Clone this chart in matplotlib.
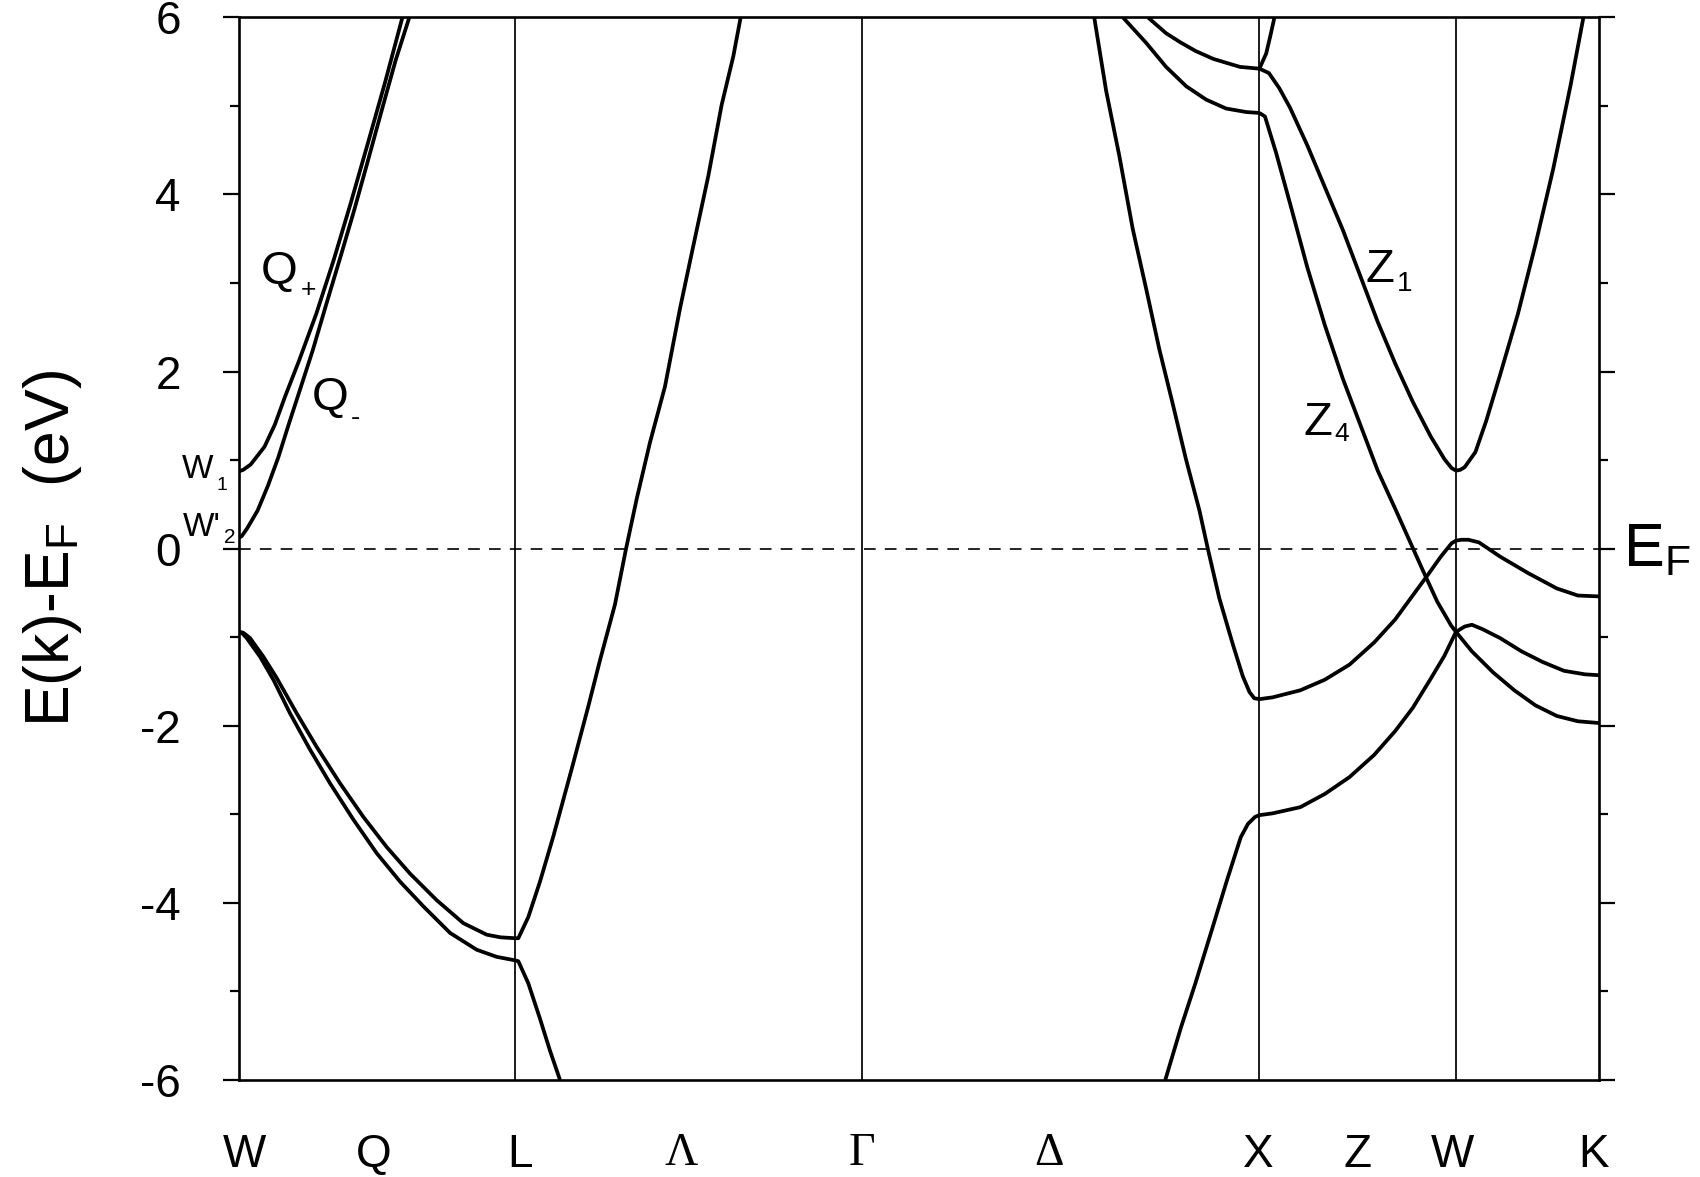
import numpy as np
import matplotlib
matplotlib.use("Agg")
import matplotlib.pyplot as plt

plt.rcParams['font.family'] = ['Liberation Sans', 'DejaVu Sans']
plt.rcParams['mathtext.fontset'] = 'custom'
plt.rcParams['mathtext.rm'] = 'Liberation Sans'
plt.rcParams['mathtext.it'] = 'Liberation Sans'
plt.rcParams['mathtext.default'] = 'regular'
plt.rcParams['axes.unicode_minus'] = False

# high-symmetry points along the path (k in units of 2pi/a)
sym_k = [0.0, 0.6963, 1.570, 2.571, 3.066, 3.4267]
label_k = [0.014, 0.341, 0.709, 1.114, 1.570, 2.041, 2.567, 2.817, 3.058, 3.413]
label_txt = ['W', 'Q', 'L', 'Λ', 'Γ', 'Δ', 'X', 'Z', 'W', 'K']
greek = ['Λ', 'Γ', 'Δ']

# W -> L
qplus_k = [0.0, 0.012, 0.0307, 0.0654, 0.0915, 0.1175, 0.1523, 0.1957, 0.2391, 0.2825, 0.3259, 0.3694, 0.4128]
qplus_e = [0.87, 0.89, 0.95, 1.15, 1.40, 1.72, 2.12, 2.65, 3.25, 3.90, 4.58, 5.27, 6.0]
qminus_k = [0.0, 0.008, 0.022, 0.0481, 0.0741, 0.1002, 0.1262, 0.1523, 0.1870, 0.2217, 0.2565, 0.2912, 0.3259, 0.3607, 0.3954, 0.4302]
qminus_e = [0.12, 0.14, 0.23, 0.43, 0.71, 1.03, 1.40, 1.76, 2.24, 2.77, 3.29, 3.82, 4.38, 4.95, 5.51, 6.0]
wl_v1_k = [0.0, 0.012, 0.029, 0.0625, 0.0961, 0.1465, 0.1969, 0.2556, 0.3144, 0.3731, 0.4319, 0.4990, 0.5662, 0.6250, 0.6600, 0.6963]
wl_v1_e = [-0.94, -0.95, -1.01, -1.22, -1.46, -1.86, -2.24, -2.65, -3.03, -3.37, -3.67, -3.97, -4.23, -4.36, -4.39, -4.40]
wl_v2_k = [0.0, 0.008, 0.0206, 0.0541, 0.0877, 0.1297, 0.1801, 0.2304, 0.2892, 0.3480, 0.4067, 0.4655, 0.5327, 0.5998, 0.6500, 0.6963]
wl_v2_e = [-0.94, -0.95, -1.01, -1.22, -1.48, -1.86, -2.27, -2.65, -3.06, -3.44, -3.76, -4.04, -4.34, -4.53, -4.61, -4.65]

# L -> Gamma
lg_up_k = [0.6963, 0.7047, 0.7299, 0.7593, 0.7928, 0.8390, 0.8810, 0.9104, 0.9481, 0.9760, 1.0027, 1.0363, 1.0740, 1.1118, 1.1454, 1.1832, 1.2167, 1.2461, 1.2646]
lg_up_e = [-4.40, -4.40, -4.16, -3.76, -3.25, -2.49, -1.78, -1.26, -0.63, 0.0, 0.56, 1.20, 1.83, 2.71, 3.42, 4.21, 5.01, 5.56, 6.0]
lg_dn_k = [0.6963, 0.7047, 0.7299, 0.7593, 0.7844, 0.8096]
lg_dn_e = [-4.65, -4.66, -4.91, -5.31, -5.67, -6.0]

# Gamma -> X
gx_a_k = [2.155, 2.185, 2.218, 2.252, 2.286, 2.319, 2.353, 2.386, 2.420, 2.441, 2.470, 2.504, 2.529, 2.546, 2.558, 2.571]
gx_a_e = [6.0, 5.17, 4.44, 3.61, 2.93, 2.25, 1.63, 1.01, 0.43, 0.0, -0.56, -1.08, -1.44, -1.62, -1.69, -1.70]
gx_b_k = [2.334, 2.374, 2.409, 2.453, 2.489, 2.524, 2.542, 2.560, 2.571]
gx_b_e = [-6.0, -5.40, -4.92, -4.28, -3.75, -3.26, -3.11, -3.03, -3.01]
gx_c_k = [2.227, 2.286, 2.336, 2.387, 2.437, 2.487, 2.538, 2.571]
gx_c_e = [6.0, 5.71, 5.44, 5.22, 5.07, 4.97, 4.93, 4.92]
gx_d_k = [2.290, 2.336, 2.371, 2.410, 2.455, 2.522, 2.571]
gx_d_e = [6.0, 5.82, 5.72, 5.62, 5.53, 5.44, 5.42]

# X -> W -> K
xw_s_k = [2.571, 2.588, 2.598, 2.609]
xw_s_e = [5.42, 5.59, 5.78, 6.0]
z1_k = [2.571, 2.595, 2.621, 2.648, 2.692, 2.736, 2.781, 2.825, 2.869, 2.913, 2.957, 3.002, 3.037, 3.055, 3.066]
z1_e = [5.42, 5.37, 5.20, 4.98, 4.55, 4.08, 3.60, 3.08, 2.56, 2.09, 1.66, 1.27, 1.01, 0.91, 0.88]
z4_k = [2.571, 2.585, 2.613, 2.648, 2.692, 2.736, 2.781, 2.825, 2.869, 2.913, 2.957, 2.984, 3.019, 3.054, 3.066,
        3.106, 3.160, 3.213, 3.266, 3.320, 3.373, 3.4267]
z4_e = [4.92, 4.88, 4.47, 3.90, 3.17, 2.52, 1.92, 1.40, 0.88, 0.45, 0.01, -0.26, -0.60, -0.87, -0.94,
        -1.16, -1.40, -1.60, -1.77, -1.89, -1.95, -1.97]
xwk_1_k = [2.571, 2.604, 2.674, 2.736, 2.798, 2.860, 2.913, 2.957, 2.993, 3.028, 3.055, 3.066, 3.080, 3.097, 3.124,
           3.177, 3.249, 3.320, 3.373, 3.4267]
xwk_1_e = [-1.70, -1.68, -1.60, -1.48, -1.31, -1.06, -0.80, -0.53, -0.31, -0.09, 0.06, 0.09, 0.10, 0.10, 0.07,
           -0.09, -0.28, -0.45, -0.53, -0.54]
xwk_2_k = [2.571, 2.604, 2.674, 2.736, 2.798, 2.860, 2.913, 2.957, 3.001, 3.037, 3.066, 3.088, 3.106, 3.133,
           3.177, 3.231, 3.284, 3.338, 3.391, 3.4267]
xwk_2_e = [-3.01, -2.99, -2.92, -2.77, -2.58, -2.33, -2.06, -1.80, -1.48, -1.21, -0.94, -0.88, -0.86, -0.91,
           -1.01, -1.16, -1.28, -1.38, -1.42, -1.43]
wk_c_k = [3.066, 3.077, 3.088, 3.115, 3.142, 3.177, 3.222, 3.266, 3.311, 3.355, 3.387]
wk_c_e = [0.88, 0.89, 0.92, 1.09, 1.44, 1.96, 2.65, 3.43, 4.29, 5.24, 6.0]

bands = [(qplus_k, qplus_e), (qminus_k, qminus_e), (wl_v1_k, wl_v1_e), (wl_v2_k, wl_v2_e),
         (lg_up_k, lg_up_e), (lg_dn_k, lg_dn_e), (gx_a_k, gx_a_e), (gx_b_k, gx_b_e),
         (gx_c_k, gx_c_e), (gx_d_k, gx_d_e), (xw_s_k, xw_s_e), (z1_k, z1_e), (z4_k, z4_e),
         (xwk_1_k, xwk_1_e), (xwk_2_k, xwk_2_e), (wk_c_k, wk_c_e)]

# band labels: k, E of baseline, main, subscript, size, sub size, sub drop (pt)
band_labels = [
    (0.057, 2.99, 'Q', '+', 34, 19, -2.6),
    (0.184, 1.57, 'Q', '-', 34, 20, -3.6),
    (-0.143, 0.80, 'W', '1', 24, 14, -3.5),
    (-0.139, 0.14, "W'", '2', 24, 15, 0.0),
    (2.837, 3.01, 'Z', '1', 34, 20, 0.7),
    (2.681, 1.28, 'Z', '4', 34, 19, 3.0),
]

fig = plt.figure(figsize=(17, 11.77), dpi=100)
ax = fig.add_axes([0.1403, 0.0825, 0.8004, 0.9028])

for k, e in bands:
    ax.plot(k, e, color='black', lw=2.7, solid_capstyle='butt', solid_joinstyle='round')

for xv in sym_k[1:-1]:
    ax.axvline(xv, color='black', lw=1.25)
ax.axhline(0, color='black', lw=1.2, dashes=(7, 5.5))

ax.set_xlim(sym_k[0], sym_k[-1])
ax.set_ylim(-6, 6)
for s in ax.spines.values():
    s.set_linewidth(1.9)

ax.set_yticks(np.arange(-6, 7, 2))
ax.set_yticks(np.arange(-5, 6, 2), minor=True)
ax.tick_params(axis='y', which='major', left=True, right=True, direction='out',
               length=11.5, width=1.6, labelsize=33, pad=30)
ax.tick_params(axis='y', which='minor', left=True, right=True, direction='out',
               length=6.5, width=1.6)

ax.set_xticks(label_k)
ax.set_xticklabels(label_txt)
ax.tick_params(axis='x', length=0, labelsize=33, pad=38)
for t in ax.get_xticklabels():
    if t.get_text() in greek:
        t.set_family('Liberation Serif')

fig.text(0.031, 0.534, r'E(k)-E$_{F}$  (eV)', rotation=90, fontsize=45,
         ha='center', va='center')
ax.text(3.487, -0.03, r'E$_{F}$', fontsize=44, ha='left', va='center', clip_on=False)

for x, y, main, sub, size, sub_size, drop in band_labels:
    t = ax.text(x, y, main, fontsize=size, ha='left', va='baseline', clip_on=False)
    ax.annotate(sub, xy=(1, 0), xycoords=t, xytext=(2, drop), textcoords='offset points',
                fontsize=sub_size, ha='left', va='baseline', annotation_clip=False)

fig.savefig('out.png', dpi=100)
